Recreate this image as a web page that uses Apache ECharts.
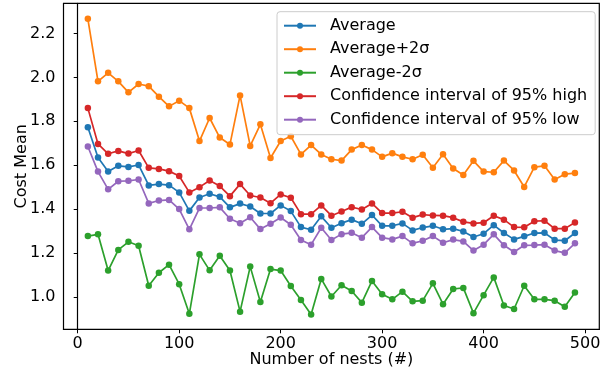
<!DOCTYPE html>
<html><head><meta charset="utf-8">
<script src="https://cdn.jsdelivr.net/npm/echarts@6/dist/echarts.min.js"></script>
<style>html,body{margin:0;padding:0;background:#fff}#c{width:612px;height:373px}</style>
</head><body><div id="c"></div>
<script>
const nests = [10,20,30,40,50,60,70,80,90,100,110,120,130,140,150,160,170,180,190,200,210,220,230,240,250,260,270,280,290,300,310,320,330,340,350,360,370,380,390,400,410,420,430,440,450,460,470,480,490];
const average = [1.773,1.635,1.571,1.597,1.592,1.601,1.508,1.514,1.509,1.476,1.392,1.453,1.470,1.456,1.408,1.425,1.412,1.380,1.380,1.417,1.391,1.318,1.306,1.367,1.315,1.336,1.352,1.333,1.373,1.324,1.324,1.335,1.303,1.316,1.324,1.308,1.311,1.298,1.273,1.288,1.327,1.291,1.262,1.276,1.291,1.292,1.259,1.256,1.291];
const averagePlus2s = [2.267,1.982,2.021,1.982,1.932,1.970,1.960,1.912,1.868,1.894,1.860,1.710,1.815,1.726,1.694,1.918,1.688,1.786,1.633,1.710,1.732,1.649,1.692,1.649,1.627,1.621,1.671,1.692,1.671,1.638,1.655,1.638,1.627,1.648,1.588,1.650,1.585,1.555,1.620,1.571,1.568,1.621,1.576,1.501,1.591,1.597,1.535,1.559,1.564];
const averageMinus2s = [1.277,1.285,1.120,1.214,1.251,1.233,1.051,1.110,1.147,1.058,0.923,1.194,1.121,1.188,1.120,0.933,1.138,0.977,1.127,1.120,1.050,0.986,0.920,1.082,1.002,1.053,1.027,0.974,1.073,1.012,0.989,1.024,0.980,0.983,1.062,0.967,1.036,1.041,0.926,1.008,1.089,0.961,0.945,1.051,0.989,0.989,0.983,0.955,1.020];
const ciHigh = [1.860,1.697,1.652,1.665,1.653,1.667,1.588,1.583,1.573,1.551,1.476,1.500,1.530,1.505,1.459,1.514,1.462,1.453,1.427,1.467,1.452,1.377,1.377,1.417,1.370,1.389,1.409,1.398,1.426,1.382,1.382,1.388,1.361,1.375,1.371,1.370,1.361,1.342,1.335,1.338,1.370,1.352,1.318,1.317,1.345,1.347,1.311,1.311,1.339];
const ciLow = [1.685,1.571,1.490,1.527,1.529,1.535,1.426,1.439,1.442,1.400,1.308,1.405,1.405,1.408,1.356,1.336,1.363,1.309,1.333,1.362,1.329,1.259,1.238,1.315,1.259,1.286,1.292,1.270,1.318,1.270,1.262,1.277,1.244,1.256,1.277,1.247,1.261,1.253,1.211,1.238,1.285,1.235,1.205,1.235,1.236,1.238,1.211,1.201,1.244];
const xTicks = [0,100,200,300,400,500];
const yTicks = [1.0,1.2,1.4,1.6,1.8,2.0,2.2];
const seriesNames = ['Average','Average+2σ','Average-2σ','Confidence interval of 95% high','Confidence interval of 95% low'];
const seriesColors = ['#1f77b4','#ff7f0e','#2ca02c','#d62728','#9467bd'];
const seriesValues = [average, averagePlus2s, averageMinus2s, ciHigh, ciLow];

const FONT = 'DejaVu Sans';
const chart = echarts.init(document.getElementById('c'), null, {renderer:'canvas'});
chart.setOption({
  animation: false,
  backgroundColor: '#fff',
  textStyle: {fontFamily: FONT},
  grid: {left: 63.5, right: 12.7, top: 3.3, bottom: 43.7, show: true, borderColor: '#000', borderWidth: 1.2, containLabel: false, outerBoundsMode: 'none'},
  xAxis: {
    type: 'value', min: -14, max: 514,
    name: 'Number of nests (#)', nameLocation: 'middle', nameGap: 23, nameMoveOverlap: false,
    nameTextStyle: {fontFamily: FONT, fontSize: 16, color: '#000'},
    axisLine: {show: true, lineStyle: {color: '#000', width: 1.2}},
    axisTick: {show: true, length: 4, inside: false, lineStyle: {color: '#000', width: 1}, customValues: xTicks},
    axisLabel: {show: true, margin: 7, fontFamily: FONT, fontSize: 16, color: '#000', customValues: xTicks, formatter: v => String(v)},
    splitLine: {show: false}
  },
  yAxis: {
    type: 'value', min: 0.8525, max: 2.3375,
    name: 'Cost Mean', nameLocation: 'middle', nameGap: 34, nameMoveOverlap: false,
    nameTextStyle: {fontFamily: FONT, fontSize: 16, color: '#000'},
    axisLine: {show: true, lineStyle: {color: '#000', width: 1.2}},
    axisTick: {show: true, length: 4, inside: false, lineStyle: {color: '#000', width: 1}, customValues: yTicks},
    axisLabel: {show: true, margin: 8, fontFamily: FONT, fontSize: 16, color: '#000', customValues: yTicks, formatter: v => v.toFixed(1)},
    splitLine: {show: false}
  },
  legend: {
    orient: 'vertical', left: 277, top: 11.7,
    padding: [6, 8, 7, 6],
    itemWidth: 32, itemHeight: 7.5, itemGap: 7.5,
    backgroundColor: 'rgba(255,255,255,0.8)', borderColor: '#cccccc', borderWidth: 1, borderRadius: 3,
    textStyle: {fontFamily: FONT, fontSize: 16, color: '#000', lineHeight: 14, padding: [0,0,0,9]},
    data: seriesNames
  },
  series: seriesNames.map((name, i) => ({
    name: name, type: 'line',
    data: nests.map((x, j) => [x, seriesValues[i][j]]),
    symbol: 'circle', symbolSize: 6.5, showSymbol: true,
    lineStyle: {color: seriesColors[i], width: 1.7},
    itemStyle: {color: seriesColors[i]},
    emphasis: {disabled: true},
    z: 2 + i
  }))
});
</script></body></html>
